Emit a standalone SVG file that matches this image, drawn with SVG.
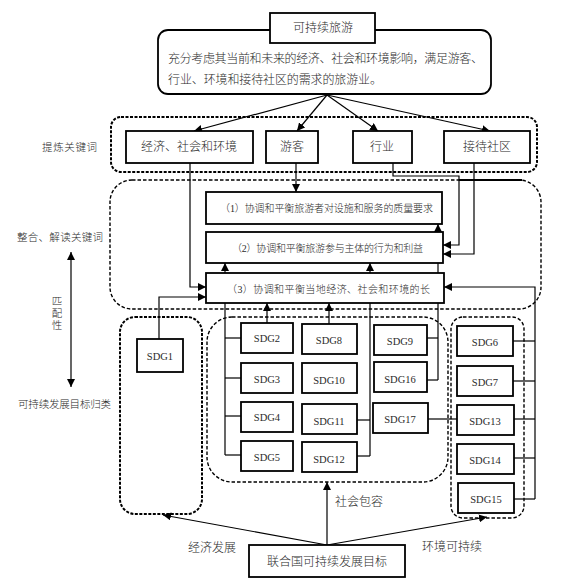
<svg xmlns="http://www.w3.org/2000/svg" width="567" height="585" viewBox="0 0 567 585">
<defs>
<marker id="ah" viewBox="0 0 10 10" refX="10" refY="5" markerWidth="8" markerHeight="8" markerUnits="userSpaceOnUse" orient="auto">
<path d="M0,0 L10,5 L0,10 z" fill="#000"/>
</marker>
<marker id="ahs" viewBox="0 0 10 10" refX="0" refY="5" markerWidth="8" markerHeight="8" markerUnits="userSpaceOnUse" orient="auto">
<path d="M10,0 L0,5 L10,10 z" fill="#000"/>
</marker>
</defs>
<style>
text{font-family:"Liberation Serif","Noto Sans CJK SC",serif;fill:#2a2a2a;font-weight:300;}
.cn{font-size:12px;text-anchor:middle;dominant-baseline:central;}
.lbl{font-size:10.5px;dominant-baseline:central;}
.sdg{font-size:10.5px;text-anchor:middle;dominant-baseline:central;font-weight:400;}
.box{fill:#fff;stroke:#000;stroke-width:1.8;}
.grp{fill:none;stroke:#000;stroke-width:1.4;stroke-dasharray:3.5 2;}
.grp2{fill:none;stroke:#000;stroke-width:2;stroke-dasharray:3 1.5;}
.ln{fill:none;stroke:#000;stroke-width:1.2;}
.ar{fill:none;stroke:#000;stroke-width:1.2;marker-end:url(#ah);}
</style>
<rect width="567" height="585" fill="#fff"/>

<g id="groups">
<rect x="111" y="117" width="426" height="55" rx="10" class="grp2"/>
<rect x="110" y="180" width="431" height="129" rx="22" class="grp"/>
<rect x="120" y="317" width="82" height="197" rx="15" class="grp2"/>
<rect x="207" y="317" width="241" height="165" rx="25" class="grp"/>
<rect x="451" y="317" width="73" height="201" rx="12" class="grp"/>
</g>

<g id="connectors">
<line x1="327" y1="95" x2="194" y2="131" class="ar"/>
<line x1="327" y1="95" x2="297" y2="131" class="ar"/>
<line x1="327" y1="95" x2="378" y2="131" class="ar"/>
<line x1="327" y1="95" x2="490" y2="131" class="ar"/>
<polyline points="190,163 190,287 206,287" class="ar"/>
<polyline points="296,163 296,192" class="ar"/>
<polyline points="393,163 393,176 459,176 459,245 443,245" class="ar"/>
<polyline points="474,163 474,254 443,254" class="ar"/>
<line x1="459" y1="180" x2="522" y2="180" stroke="#000" stroke-width="1.8"/>
<polyline points="438,380 438,224" class="ar"/>
<line x1="427" y1="338" x2="438" y2="338" class="ln"/>
<line x1="427" y1="380" x2="438" y2="380" class="ln"/>
<polyline points="225,455 225,263" class="ar"/>
<line x1="225" y1="338" x2="241" y2="338" class="ln"/>
<line x1="225" y1="378" x2="241" y2="378" class="ln"/>
<line x1="225" y1="416" x2="241" y2="416" class="ln"/>
<line x1="225" y1="455" x2="241" y2="455" class="ln"/>
<polyline points="267,323 267,303" class="ar"/>
<polyline points="329,324 329,303" class="ar"/>
<polyline points="370,456 370,263" class="ar"/>
<line x1="357" y1="420" x2="370" y2="420" class="ln"/>
<line x1="357" y1="456" x2="370" y2="456" class="ln"/>
<polyline points="535,499 535,287 444,287" class="ar"/>
<line x1="513" y1="341" x2="535" y2="341" class="ln"/>
<line x1="513" y1="381" x2="535" y2="381" class="ln"/>
<line x1="514" y1="419" x2="535" y2="419" class="ln"/>
<line x1="514" y1="458" x2="535" y2="458" class="ln"/>
<line x1="514" y1="499" x2="535" y2="499" class="ln"/>
<line x1="428" y1="419" x2="457" y2="419" class="ln"/>
<polyline points="159,339 159,297 206,297" class="ar"/>
<line x1="327" y1="545" x2="327" y2="482" class="ar"/>
<line x1="327" y1="545" x2="163" y2="515" class="ar"/>
<line x1="327" y1="545" x2="487" y2="517" class="ar"/>
<line x1="71" y1="252" x2="71" y2="387" stroke="#000" stroke-width="1.2" marker-start="url(#ahs)" marker-end="url(#ah)"/>
</g>

<g id="desc">
<rect x="158" y="30" width="333" height="64" rx="10" class="box"/>
<text x="168" y="59" style="font-size:12px;dominant-baseline:central" textLength="315">充分考虑其当前和未来的经济、社会和环境影响，满足游客、</text>
<text x="168" y="80" style="font-size:12px;dominant-baseline:central" textLength="214">行业、环境和接待社区的需求的旅游业。</text>
</g>
<g id="title">
<rect x="270" y="13" width="105" height="30" class="box"/>
<text x="323" y="28" class="cn">可持续旅游</text>
</g>

<g id="k1"><rect x="126" y="131" width="127" height="32" class="box"/><text x="189" y="147" class="cn">经济、社会和环境</text></g>
<g id="k2"><rect x="266" y="131" width="52" height="32" class="box"/><text x="292" y="147" class="cn">游客</text></g>
<g id="k3"><rect x="353" y="131" width="59" height="32" class="box"/><text x="382" y="147" class="cn">行业</text></g>
<g id="k4"><rect x="444" y="131" width="86" height="32" class="box"/><text x="487" y="147" class="cn">接待社区</text></g>

<g id="p1"><rect x="206" y="192" width="236" height="32" class="box"/><text x="220" y="208" style="font-size:10px;dominant-baseline:central" textLength="213">（1）协调和平衡旅游者对设施和服务的质量要求</text></g>
<g id="p2"><rect x="206" y="232" width="237" height="31" class="box"/><text x="232" y="248" style="font-size:10px;dominant-baseline:central" textLength="191">（2）协调和平衡旅游参与主体的行为和利益</text></g>
<g id="p3"><rect x="206" y="273" width="238" height="30" class="box"/><text x="227" y="289" style="font-size:10px;dominant-baseline:central" textLength="203">（3）协调和平衡当地经济、社会和环境的长</text></g>

<g id="sdg1"><rect x="137" y="339" width="46" height="33" class="box"/><text x="160" y="356" class="sdg">SDG1</text></g>
<g id="sdg2"><rect x="241" y="323" width="52" height="30" class="box"/><text x="267" y="338" class="sdg">SDG2</text></g>
<g id="sdg3"><rect x="241" y="363" width="52" height="30" class="box"/><text x="267" y="379" class="sdg">SDG3</text></g>
<g id="sdg4"><rect x="241" y="402" width="52" height="30" class="box"/><text x="267" y="417" class="sdg">SDG4</text></g>
<g id="sdg5"><rect x="241" y="441" width="52" height="30" class="box"/><text x="267" y="457" class="sdg">SDG5</text></g>
<g id="sdg8"><rect x="302" y="324" width="55" height="30" class="box"/><text x="329" y="340" class="sdg">SDG8</text></g>
<g id="sdg10"><rect x="302" y="363" width="55" height="30" class="box"/><text x="329" y="380" class="sdg">SDG10</text></g>
<g id="sdg11"><rect x="302" y="404" width="55" height="30" class="box"/><text x="329" y="421" class="sdg">SDG11</text></g>
<g id="sdg12"><rect x="302" y="442" width="55" height="30" class="box"/><text x="329" y="459" class="sdg">SDG12</text></g>
<g id="sdg9"><rect x="374" y="325" width="53" height="30" class="box"/><text x="400" y="341" class="sdg">SDG9</text></g>
<g id="sdg16"><rect x="374" y="362" width="53" height="30" class="box"/><text x="400" y="379" class="sdg">SDG16</text></g>
<g id="sdg17"><rect x="373" y="403" width="55" height="30" class="box"/><text x="400" y="419" class="sdg">SDG17</text></g>
<g id="sdg6"><rect x="457" y="326" width="56" height="30" class="box"/><text x="485" y="342" class="sdg">SDG6</text></g>
<g id="sdg7"><rect x="457" y="366" width="56" height="30" class="box"/><text x="485" y="382" class="sdg">SDG7</text></g>
<g id="sdg13"><rect x="457" y="405" width="57" height="30" class="box"/><text x="485" y="421" class="sdg">SDG13</text></g>
<g id="sdg14"><rect x="457" y="444" width="57" height="30" class="box"/><text x="485" y="460" class="sdg">SDG14</text></g>
<g id="sdg15"><rect x="458" y="483" width="56" height="30" class="box"/><text x="486" y="499" class="sdg">SDG15</text></g>

<g id="un"><rect x="249" y="545" width="156" height="32" class="box"/><text x="327" y="562" class="cn">联合国可持续发展目标</text></g>

<g id="labels">
<text x="42" y="147" class="lbl" textLength="55">提炼关键词</text>
<text x="17" y="237" class="lbl" textLength="86">整合、解读关键词</text>
<text x="57" y="301" class="lbl" text-anchor="middle">匹</text>
<text x="57" y="313" class="lbl" text-anchor="middle">配</text>
<text x="57" y="325" class="lbl" text-anchor="middle">性</text>
<text x="18" y="404" class="lbl" textLength="93">可持续发展目标归类</text>
<text x="212" y="548" class="cn">经济发展</text>
<text x="359" y="502" class="cn">社会包容</text>
<text x="452" y="547" class="cn">环境可持续</text>
</g>
</svg>
